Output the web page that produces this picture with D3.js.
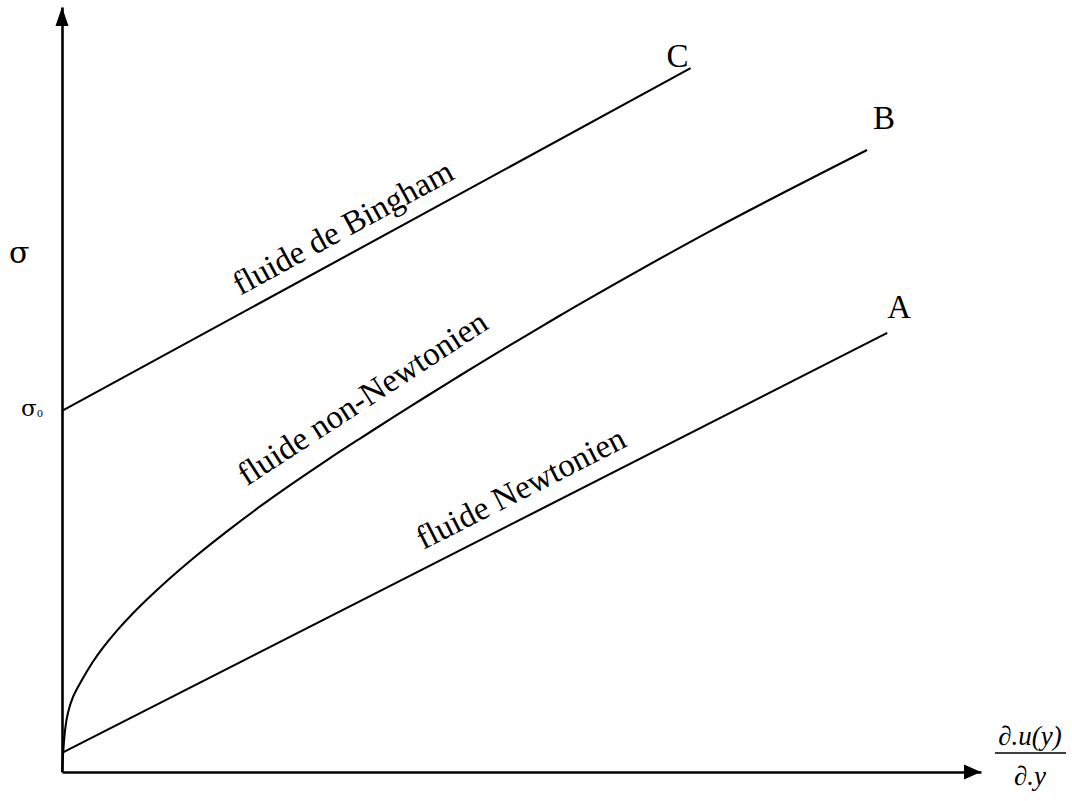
<!DOCTYPE html>
<html>
<head>
<meta charset="utf-8">
<script src="https://cdn.jsdelivr.net/npm/d3@7/dist/d3.min.js"></script>
<style>
  body { margin: 0; background: #fff; }
  svg { display: block; }
  text { font-family: "Liberation Serif", "Times New Roman", "DejaVu Serif", serif; fill: #000; }
  .greek { font-family: "DejaVu Serif", "Liberation Serif", serif; }
</style>
</head>
<body>
<svg id="chart" width="1072" height="801"></svg>
<script>
// Shear stress vs. shear rate for three fluid types (arbitrary units, 0..100)
const seriesNames = ["A", "B", "C"];
const curveLabels = ["fluide Newtonien", "fluide non-Newtonien", "fluide de Bingham"];

// A: Newtonian fluid, straight line
const newtonRate   = [0, 89.8];
const newtonStress = [2.5, 57.4];

// B: non-Newtonian (shear-thinning) fluid
const nonNewtonRate   = [0, 0.33, 0.65, 1.2, 2.18, 3.26, 4.46, 5.98, 7.73, 9.58, 11.53, 14.25, 17.95, 21.55, 25.14, 28.84, 32.43, 36.02, 39.72, 43.31, 46.9, 50.6, 54.19, 56.37, 70.73, 87.6];
const nonNewtonStress = [0, 5.49, 7.73, 9.82, 12.05, 14.21, 16.25, 18.48, 20.75, 22.93, 25.1, 27.91, 31.46, 34.71, 37.76, 40.78, 43.59, 46.35, 49.15, 51.83, 54.46, 57.12, 59.67, 61.2, 70.84, 81.31];

// C: Bingham fluid, yield stress then linear
const binghamRate   = [0, 68.4];
const binghamStress = [47.2, 92.0];

const yAxisLabel = "σ";
const yieldLabel = "σ";
const yieldSub = "0";
const xLabelNum = "∂.u(y)";
const xLabelDen = "∂.y";

const svg = d3.select("#chart");

const x = d3.scaleLinear().domain([0, 100]).range([62, 981]);
const y = d3.scaleLinear().domain([0, 100]).range([772, 7]);

const series = [
  { name: seriesNames[0], label: curveLabels[0], xs: newtonRate, ys: newtonStress, nameOff: [12, -15], labelX: 39.3, gap: 19 },
  { name: seriesNames[1], label: curveLabels[1], xs: nonNewtonRate, ys: nonNewtonStress, nameOff: [17, -21], labelX: 20.1, gap: 30 },
  { name: seriesNames[2], label: curveLabels[2], xs: binghamRate, ys: binghamStress, nameOff: [-13, -1], labelX: 19.4, gap: 18 }
];

// Axes: plain lines without ticks
const xAxis = d3.axisBottom(x).tickValues([]).tickSizeOuter(0);
const yAxis = d3.axisLeft(y).tickValues([]).tickSizeOuter(0);
svg.append("g").attr("transform", `translate(0,${y(0)})`).call(xAxis)
  .select(".domain").attr("stroke", "#000").attr("stroke-width", 2.6);
svg.append("g").attr("transform", `translate(${x(0)},0)`).call(yAxis)
  .select(".domain").attr("stroke", "#000").attr("stroke-width", 2.6);

// Arrow heads
const tipX = x(100), tipY = y(100);
svg.append("path")
  .attr("d", `M${tipX},${y(0)} L${tipX - 17},${y(0) - 7.5} L${tipX - 17},${y(0) + 7.5} Z`)
  .attr("fill", "#000");
svg.append("path")
  .attr("d", `M${x(0)},${tipY} L${x(0) - 6.5},${tipY + 19} L${x(0) + 6.5},${tipY + 19} Z`)
  .attr("fill", "#000");

const line = d3.line().x(d => x(d[0])).y(d => y(d[1])).curve(d3.curveCatmullRom.alpha(0.5));

function valueAt(s, xv) {
  for (let i = 1; i < s.xs.length; i++) {
    if (xv <= s.xs[i]) {
      const t = (xv - s.xs[i - 1]) / (s.xs[i] - s.xs[i - 1]);
      return s.ys[i - 1] + t * (s.ys[i] - s.ys[i - 1]);
    }
  }
  return s.ys[s.ys.length - 1];
}

series.forEach(s => {
  const pts = s.xs.map((v, i) => [v, s.ys[i]]);
  svg.append("path")
    .attr("d", line(pts))
    .attr("fill", "none")
    .attr("stroke", "#000")
    .attr("stroke-width", 2.1)
    .attr("stroke-linejoin", "round");

  // end letter
  const last = pts[pts.length - 1];
  svg.append("text")
    .attr("x", x(last[0]) + s.nameOff[0])
    .attr("y", y(last[1]) + s.nameOff[1])
    .attr("text-anchor", "middle")
    .attr("font-size", 33)
    .text(s.name);

  // curve label along the line
  const x0 = s.labelX, x1 = Math.min(s.labelX + 28, last[0]);
  const px0 = x(x0), py0 = y(valueAt(s, x0));
  const px1 = x(x1), py1 = y(valueAt(s, x1));
  const ang = Math.atan2(py1 - py0, px1 - px0) * 180 / Math.PI;
  svg.append("text")
    .attr("transform", `translate(${px0},${py0 - s.gap}) rotate(${ang})`)
    .attr("font-size", 33)
    .text(s.label);
});

// y axis label and yield stress
svg.append("text").attr("class", "greek").attr("x", 9).attr("y", 263).attr("font-size", 30).text(yAxisLabel);
const yl = svg.append("text").attr("class", "greek").attr("x", 21).attr("y", y(binghamStress[0]) + 5).attr("font-size", 23);
yl.append("tspan").text(yieldLabel);
yl.append("tspan").attr("font-size", 10).attr("dy", 1).text(yieldSub);

// x axis label as a fraction
const fx = 1030;
svg.append("text").attr("x", fx).attr("y", 745).attr("text-anchor", "middle")
  .attr("font-size", 27).attr("font-style", "italic").text(xLabelNum);
svg.append("line").attr("x1", 995).attr("x2", 1066).attr("y1", 753).attr("y2", 753)
  .attr("stroke", "#000").attr("stroke-width", 1.6);
svg.append("text").attr("x", fx).attr("y", 785).attr("text-anchor", "middle")
  .attr("font-size", 27).attr("font-style", "italic").text(xLabelDen);
</script>
</body>
</html>
